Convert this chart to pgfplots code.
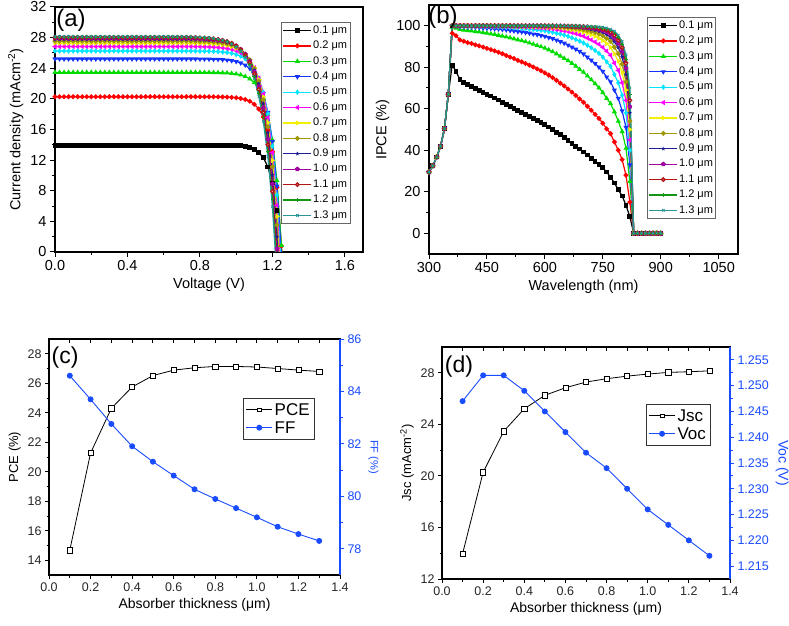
\documentclass[border=0pt]{standalone}
\usepackage{fontspec}
\setmainfont{Liberation Sans}
\usepackage{pgfplots}
\usepackage{pgfplotstable}
\pgfplotsset{compat=1.18}
\usetikzlibrary{plotmarks}

\definecolor{c1}{RGB}{0,0,0}
\definecolor{c2}{RGB}{255,0,0}
\definecolor{c3}{RGB}{0,220,0}
\definecolor{c4}{RGB}{20,50,255}
\definecolor{c5}{RGB}{0,230,255}
\definecolor{c6}{RGB}{255,0,255}
\definecolor{c7}{RGB}{240,240,0}
\definecolor{c8}{RGB}{160,152,0}
\definecolor{c9}{RGB}{30,30,150}
\definecolor{c10}{RGB}{160,0,160}
\definecolor{c11}{RGB}{180,20,20}
\definecolor{c12}{RGB}{20,150,20}
\definecolor{c13}{RGB}{40,150,150}
\definecolor{ffblue}{RGB}{25,75,255}

\pgfplotsset{
  /pgf/number format/assume math mode=true,
  /pgf/number format/1000 sep={},
  sr/.style={line width=1.2pt, mark size=1.8pt},
  s1/.style={sr, color=c1, mark=square*, mark options={solid}},
  s2/.style={sr, color=c2, mark=*, mark options={solid}},
  s3/.style={sr, color=c3, mark=triangle*, mark options={solid}},
  s4/.style={sr, color=c4, mark=triangle*, mark options={solid, rotate=180}},
  s5/.style={sr, color=c5, mark=diamond*, mark options={solid}},
  s6/.style={sr, color=c6, mark=triangle*, mark options={solid, rotate=90}},
  s7/.style={sr, color=c7, mark=triangle*, mark options={solid, rotate=-90}},
  s8/.style={sr, color=c8, mark=*, mark options={solid}},
  s9/.style={sr, color=c9, mark=star, mark options={solid, line width=0.8pt}},
  s10/.style={sr, color=c10, mark=pentagon*, mark options={solid}},
  s11/.style={sr, color=c11, mark=halfcircle*, mark options={solid}},
  s12/.style={sr, color=c12, mark=+, mark options={solid, line width=0.8pt}},
  s13/.style={sr, color=c13, mark=x, mark options={solid, line width=0.8pt}},
  top/.style={
    scale only axis, anchor=south west,
    axis line style={line width=1.3pt},
    every tick/.style={black, line width=1pt},
    xtick pos=bottom, ytick pos=left,
    tick align=outside, major tick length=5pt, minor tick length=3pt,
    minor x tick num=1, minor y tick num=1,
    tick label style={font=\fontsize{14.5}{17}\selectfont},
    label style={font=\fontsize{14.5}{17}\selectfont},
    legend cell align=left,
  },
  low/.style={
    scale only axis, anchor=south west,
    axis line style={line width=1.2pt},
    every tick/.style={black, line width=0.9pt},
    tick align=outside, major tick length=4pt, minor tick length=2.5pt,
    tick label style={font=\fontsize{12.5}{14}\selectfont, text=black!85},
    label style={font=\fontsize{14}{16}\selectfont},
    legend cell align=left,
  },
  cax/.style={at={(49pt,50pt)}, width=291pt, height=236pt, xmin=0, xmax=1.4},
  dax/.style={at={(442pt,46pt)}, width=288pt, height=232pt, xmin=0, xmax=1.4},
}

\pgfplotstableread{
V c1 c2 c3 c4 c5 c6 c7 c8 c9 c10 c11 c12 c13
0.000 13.96 20.28 23.46 25.21 26.25 26.84 27.28 27.54 27.74 27.90 28.03 28.08 28.15
0.025 13.96 20.28 23.46 25.21 26.25 26.84 27.28 27.54 27.74 27.90 28.03 28.08 28.15
0.050 13.96 20.28 23.46 25.21 26.25 26.84 27.28 27.54 27.74 27.90 28.03 28.08 28.15
0.075 13.96 20.28 23.46 25.21 26.25 26.84 27.28 27.54 27.74 27.90 28.03 28.08 28.15
0.100 13.96 20.28 23.46 25.21 26.25 26.84 27.28 27.54 27.74 27.90 28.03 28.08 28.15
0.125 13.96 20.28 23.46 25.21 26.25 26.84 27.28 27.54 27.74 27.90 28.03 28.08 28.15
0.150 13.96 20.28 23.46 25.21 26.25 26.84 27.28 27.54 27.74 27.90 28.03 28.08 28.15
0.175 13.96 20.28 23.46 25.21 26.25 26.84 27.28 27.54 27.74 27.90 28.03 28.08 28.15
0.200 13.96 20.28 23.46 25.21 26.25 26.84 27.28 27.54 27.74 27.90 28.03 28.08 28.15
0.225 13.96 20.28 23.46 25.21 26.25 26.84 27.28 27.54 27.74 27.90 28.03 28.08 28.15
0.250 13.96 20.28 23.46 25.21 26.25 26.84 27.28 27.54 27.74 27.90 28.03 28.08 28.15
0.275 13.96 20.28 23.46 25.21 26.25 26.84 27.28 27.54 27.74 27.90 28.03 28.08 28.15
0.300 13.96 20.28 23.46 25.21 26.25 26.84 27.28 27.54 27.74 27.90 28.03 28.08 28.15
0.325 13.96 20.28 23.46 25.21 26.25 26.84 27.28 27.54 27.74 27.90 28.03 28.08 28.15
0.350 13.96 20.28 23.46 25.21 26.25 26.84 27.28 27.54 27.74 27.90 28.03 28.08 28.15
0.375 13.96 20.28 23.46 25.21 26.25 26.84 27.28 27.54 27.74 27.90 28.03 28.08 28.15
0.400 13.96 20.28 23.46 25.21 26.25 26.84 27.28 27.54 27.74 27.90 28.03 28.08 28.15
0.425 13.96 20.28 23.46 25.21 26.25 26.84 27.28 27.54 27.74 27.90 28.03 28.08 28.15
0.450 13.96 20.28 23.46 25.21 26.25 26.84 27.28 27.54 27.74 27.90 28.03 28.08 28.15
0.475 13.96 20.28 23.46 25.21 26.25 26.84 27.28 27.54 27.74 27.90 28.03 28.08 28.15
0.500 13.96 20.28 23.46 25.21 26.25 26.84 27.28 27.54 27.74 27.90 28.03 28.08 28.15
0.525 13.96 20.28 23.46 25.21 26.25 26.84 27.28 27.54 27.74 27.90 28.03 28.08 28.15
0.550 13.96 20.28 23.46 25.21 26.25 26.84 27.28 27.54 27.74 27.90 28.03 28.08 28.15
0.575 13.96 20.28 23.46 25.21 26.25 26.84 27.28 27.54 27.74 27.90 28.03 28.08 28.15
0.600 13.96 20.28 23.46 25.21 26.25 26.84 27.28 27.54 27.74 27.90 28.03 28.08 28.15
0.625 13.96 20.28 23.46 25.21 26.25 26.84 27.28 27.54 27.74 27.90 28.03 28.08 28.15
0.650 13.96 20.28 23.46 25.21 26.25 26.84 27.28 27.54 27.74 27.90 28.03 28.08 28.15
0.675 13.96 20.28 23.46 25.21 26.25 26.84 27.28 27.54 27.74 27.90 28.03 28.08 28.15
0.700 13.96 20.28 23.46 25.21 26.25 26.84 27.28 27.54 27.74 27.90 28.03 28.08 28.15
0.725 13.96 20.28 23.46 25.21 26.25 26.84 27.28 27.54 27.74 27.90 28.03 28.08 28.15
0.750 13.96 20.28 23.46 25.21 26.25 26.84 27.28 27.54 27.74 27.90 28.02 28.06 28.12
0.775 13.96 20.28 23.46 25.21 26.24 26.83 27.27 27.52 27.72 27.88 28.00 28.03 28.09
0.800 13.96 20.28 23.46 25.20 26.23 26.82 27.25 27.50 27.70 27.85 27.97 28.00 28.06
0.825 13.96 20.28 23.45 25.19 26.23 26.81 27.24 27.49 27.68 27.83 27.94 27.97 28.03
0.850 13.96 20.27 23.45 25.19 26.21 26.79 27.22 27.46 27.65 27.79 27.90 27.93 27.98
0.875 13.96 20.27 23.44 25.17 26.19 26.77 27.18 27.42 27.61 27.74 27.85 27.86 27.91
0.900 13.95 20.26 23.43 25.15 26.17 26.73 27.14 27.37 27.55 27.67 27.77 27.77 27.81
0.925 13.95 20.25 23.41 25.12 26.12 26.67 27.07 27.29 27.46 27.57 27.65 27.64 27.66
0.950 13.94 20.23 23.38 25.07 26.06 26.59 26.97 27.18 27.33 27.43 27.49 27.46 27.46
0.975 13.93 20.20 23.33 24.99 25.96 26.47 26.82 27.01 27.14 27.22 27.26 27.19 27.17
1.000 13.90 20.15 23.25 24.88 25.80 26.29 26.60 26.76 26.87 26.91 26.92 26.82 26.77
1.025 13.86 20.06 23.13 24.69 25.58 26.01 26.28 26.40 26.47 26.47 26.43 26.29 26.19
1.050 13.78 19.92 22.93 24.41 25.23 25.60 25.80 25.87 25.89 25.83 25.74 25.53 25.38
1.075 13.65 19.69 22.61 23.98 24.70 24.99 25.10 25.10 25.04 24.90 24.74 24.45 24.23
1.100 13.42 19.30 22.11 23.31 23.90 24.07 24.06 23.97 23.81 23.56 23.30 22.91 22.61
1.125 13.01 18.67 21.29 22.28 22.69 22.70 22.53 22.31 22.02 21.62 21.24 20.73 20.31
1.150 12.32 17.63 20.00 20.69 20.85 20.64 20.26 19.88 19.41 18.82 18.28 17.61 17.05
1.175 11.11 15.92 17.93 18.23 18.06 17.57 16.91 16.33 15.61 14.76 14.03 13.20 12.44
1.200 9.02 13.10 14.62 14.45 13.84 12.97 11.96 11.13 10.07 8.90 7.93 6.90 5.92
1.225 5.37 8.45 9.33 8.60 7.43 6.10 4.65 3.53 2.00 0.42 -0.82 -2.05 -3.29
1.250 -0.95 0.79 0.87 -0.44 -2.28 -4.19 -6.14 -7.60 -9.74 -11.9 -13.4 -14.8 -16.4
1.275 -11.9 -11.8 -12.7 -14.4 -17.0 -19.6 -22.1 -23.9 -26.8 -29.6 -31.5 -32.9 -34.9
}\tabA

\pgfplotstableread{
L c1 c2 c3 c4 c5 c6 c7 c8 c9 c10 c11 c12 c13
300 29.5 29.5 29.5 29.5 29.5 29.5 29.5 29.5 29.5 29.5 29.5 29.5 29.5
310 32.5 32.5 32.5 32.5 32.5 32.5 32.5 32.5 32.5 32.5 32.5 32.5 32.5
320 36.7 36.7 36.7 36.7 36.7 36.7 36.7 36.7 36.7 36.7 36.7 36.7 36.7
330 42.0 42.0 42.0 42.0 42.0 42.0 42.0 42.0 42.0 42.0 42.0 42.0 42.0
340 50.4 50.4 50.4 50.4 50.4 50.4 50.4 50.4 50.4 50.4 50.4 50.4 50.4
350 67.0 67.0 67.0 67.0 67.0 67.0 67.0 67.0 67.0 67.0 67.0 67.0 67.0
360 81.0 96.4 99.3 99.9 100 100 100 100 100 100 100 100 100
370 78.0 95.2 98.9 99.8 100 100 100 100 100 100 100 100 100
380 74.0 93.2 98.2 99.5 99.9 100 100 100 100 100 100 100 100
390 72.6 92.5 97.9 99.4 99.8 100 100 100 100 100 100 100 100
400 71.6 91.9 97.7 99.4 99.8 100 100 100 100 100 100 100 100
410 70.6 91.4 97.5 99.3 99.8 99.9 100 100 100 100 100 100 100
420 69.7 90.8 97.2 99.2 99.7 99.9 100 100 100 100 100 100 100
430 68.8 90.3 97.0 99.1 99.7 99.9 100 100 100 100 100 100 100
440 67.9 89.7 96.7 98.9 99.7 99.9 100 100 100 100 100 100 100
450 67.0 89.1 96.4 98.8 99.6 99.9 100 100 100 100 100 100 100
460 66.1 88.5 96.1 98.7 99.6 99.8 100 100 100 100 100 100 100
470 65.2 87.9 95.8 98.5 99.5 99.8 99.9 100 100 100 100 100 100
480 64.2 87.2 95.4 98.4 99.4 99.8 99.9 100 100 100 100 100 100
490 63.2 86.5 95.0 98.2 99.3 99.8 99.9 100 100 100 100 100 100
500 62.2 85.7 94.6 98.0 99.2 99.7 99.9 100 100 100 100 100 100
510 61.2 84.9 94.2 97.7 99.1 99.7 99.9 100 100 100 100 100 100
520 60.2 84.2 93.7 97.5 99.0 99.6 99.8 99.9 100 100 100 100 100
530 59.2 83.3 93.2 97.2 98.9 99.5 99.8 99.9 100 100 100 100 100
540 58.3 82.6 92.8 97.0 98.7 99.5 99.8 99.9 100 100 100 100 100
550 57.4 81.8 92.3 96.7 98.6 99.4 99.7 99.9 100 100 100 100 100
560 56.4 81.0 91.7 96.4 98.4 99.3 99.7 99.9 99.9 100 100 100 100
570 55.4 80.1 91.1 96.0 98.2 99.2 99.6 99.8 99.9 100 100 100 100
580 54.4 79.2 90.5 95.7 98.0 99.1 99.6 99.8 99.9 100 100 100 100
590 53.4 78.3 89.9 95.3 97.8 99.0 99.5 99.8 99.9 100 100 100 100
600 52.4 77.3 89.2 94.9 97.6 98.8 99.4 99.7 99.9 99.9 100 100 100
610 51.2 76.2 88.4 94.3 97.2 98.6 99.3 99.7 99.8 99.9 100 100 100
620 50.0 75.0 87.5 93.8 96.9 98.4 99.2 99.6 99.8 99.9 100 100 100
630 48.7 73.7 86.5 93.1 96.4 98.2 99.1 99.5 99.8 99.9 99.9 100 100
640 47.4 72.3 85.4 92.3 96.0 97.9 98.9 99.4 99.7 99.8 99.9 100 100
650 46.1 71.0 84.3 91.6 95.5 97.5 98.7 99.3 99.6 99.8 99.9 99.9 100
660 44.8 69.5 83.2 90.7 94.9 97.2 98.4 99.1 99.5 99.7 99.9 99.9 100
670 43.4 68.0 81.9 89.7 94.2 96.7 98.1 98.9 99.4 99.7 99.8 99.9 99.9
680 42.0 66.4 80.5 88.7 93.4 96.2 97.8 98.7 99.3 99.6 99.8 99.9 99.9
690 40.6 64.7 79.0 87.6 92.6 95.6 97.4 98.5 99.1 99.5 99.7 99.8 99.9
700 39.2 63.1 77.6 86.4 91.7 95.0 96.9 98.1 98.9 99.3 99.6 99.7 99.8
710 37.7 61.2 75.8 84.9 90.6 94.1 96.4 97.7 98.6 99.1 99.5 99.7 99.8
720 36.2 59.3 74.0 83.4 89.4 93.2 95.7 97.2 98.2 98.9 99.3 99.5 99.7
730 34.7 57.3 72.1 81.8 88.1 92.2 94.9 96.7 97.8 98.6 99.1 99.4 99.6
740 33.2 55.3 70.1 80.0 86.7 91.1 94.0 96.0 97.3 98.2 98.8 99.2 99.5
750 31.5 53.0 67.8 78.0 84.9 89.6 92.9 95.1 96.7 97.7 98.4 98.9 99.3
760 29.5 50.3 65.0 75.3 82.6 87.8 91.4 93.9 95.7 97.0 97.9 98.5 98.9
770 27.0 48.0 62.5 73.0 80.5 85.8 89.6 92.5 94.4 95.9 97.0 97.8 98.3
780 24.2 44.0 58.5 69.0 76.5 82.0 86.5 89.7 92.2 94.0 95.5 96.6 97.4
790 21.0 40.0 54.0 65.0 72.5 78.5 83.0 86.5 89.5 91.5 93.0 94.5 95.5
800 18.0 35.5 49.0 59.0 66.5 72.5 77.5 81.5 85.0 87.5 89.5 91.0 92.5
810 13.5 28.0 41.0 51.0 58.0 64.0 69.0 73.0 76.5 79.5 82.0 84.0 86.0
820 8.0 15.0 25.0 33.0 40.0 45.0 50.0 54.0 58.0 61.0 64.0 67.0 70.0
830 0 0 0 0 0 0 0 0 0 0 0 0 0
840 0 0 0 0 0 0 0 0 0 0 0 0 0
850 0 0 0 0 0 0 0 0 0 0 0 0 0
860 0 0 0 0 0 0 0 0 0 0 0 0 0
870 0 0 0 0 0 0 0 0 0 0 0 0 0
880 0 0 0 0 0 0 0 0 0 0 0 0 0
890 0 0 0 0 0 0 0 0 0 0 0 0 0
900 0 0 0 0 0 0 0 0 0 0 0 0 0
}\tabB

\begin{document}
\begin{tikzpicture}
\useasboundingbox (0,0) rectangle (789pt,625pt);

% ---------------- (a)
\begin{axis}[top,
  at={(55pt,373pt)}, width=308pt, height=245pt,
  xmin=0, xmax=1.7, ymin=0, ymax=32,
  xtick={0,0.4,0.8,1.2,1.6}, xticklabels={0.0,0.4,0.8,1.2,1.6},
  ytick={0,4,8,12,16,20,24,28,32},
  xlabel={Voltage (V)}, ylabel={Current density (mAcm\textsuperscript{-2})},
  legend image code/.code={\draw[mark repeat=2,mark phase=2,#1] plot coordinates {(0pt,0pt) (14pt,0pt) (28pt,0pt)};},
  legend style={at={(0.734,0.937)}, anchor=north west, draw=black!60,
    font=\fontsize{11}{13}\selectfont, inner sep=1.5pt, row sep=2.6pt,
    nodes={inner sep=1.2pt, text height=8pt, text depth=2.4pt}},
]
\addplot[s1] table[x=V,y=c1]{\tabA};
\addplot[s2] table[x=V,y=c2]{\tabA};
\addplot[s3] table[x=V,y=c3]{\tabA};
\addplot[s4] table[x=V,y=c4]{\tabA};
\addplot[s5] table[x=V,y=c5]{\tabA};
\addplot[s6] table[x=V,y=c6]{\tabA};
\addplot[s7] table[x=V,y=c7]{\tabA};
\addplot[s8] table[x=V,y=c8]{\tabA};
\addplot[s9] table[x=V,y=c9]{\tabA};
\addplot[s10] table[x=V,y=c10]{\tabA};
\addplot[s11] table[x=V,y=c11]{\tabA};
\addplot[s12] table[x=V,y=c12]{\tabA};
\addplot[s13] table[x=V,y=c13]{\tabA};
\legend{0.1 μm,0.2 μm,0.3 μm,0.4 μm,0.5 μm,0.6 μm,0.7 μm,0.8 μm,0.9 μm,1.0 μm,1.1 μm,1.2 μm,1.3 μm}
\end{axis}

% ---------------- (b)
\begin{axis}[top,
  at={(429pt,371pt)}, width=309pt, height=249pt,
  xmin=300, xmax=1100, ymin=-10, ymax=110,
  xtick={300,450,600,750,900,1050}, xticklabels={300,450,600,750,900,1050},
  ytick={0,20,40,60,80,100},
  xlabel={Wavelength (nm)}, ylabel={IPCE (\%)},
  legend image code/.code={\draw[mark repeat=2,mark phase=2,#1] plot coordinates {(0pt,0pt) (14pt,0pt) (28pt,0pt)};},
  legend style={at={(0.7055,0.95)}, anchor=north west, draw=black!60,
    font=\fontsize{11}{13}\selectfont, inner sep=1.5pt, row sep=2.6pt,
    nodes={inner sep=1.2pt, text height=8pt, text depth=2.4pt}},
]
\addplot[s1] table[x=L,y=c1]{\tabB};
\addplot[s2] table[x=L,y=c2]{\tabB};
\addplot[s3] table[x=L,y=c3]{\tabB};
\addplot[s4] table[x=L,y=c4]{\tabB};
\addplot[s5] table[x=L,y=c5]{\tabB};
\addplot[s6] table[x=L,y=c6]{\tabB};
\addplot[s7] table[x=L,y=c7]{\tabB};
\addplot[s8] table[x=L,y=c8]{\tabB};
\addplot[s9] table[x=L,y=c9]{\tabB};
\addplot[s10] table[x=L,y=c10]{\tabB};
\addplot[s11] table[x=L,y=c11]{\tabB};
\addplot[s12] table[x=L,y=c12]{\tabB};
\addplot[s13] table[x=L,y=c13]{\tabB};
\legend{0.1 μm,0.2 μm,0.3 μm,0.4 μm,0.5 μm,0.6 μm,0.7 μm,0.8 μm,0.9 μm,1.0 μm,1.1 μm,1.2 μm,1.3 μm}
\end{axis}

% ---------------- (c)
\begin{axis}[low, cax, clip=false,
  xtick pos=bottom, ytick pos=left,
  ymin=13, ymax=29,
  xtick={0,0.2,0.4,0.6,0.8,1.0,1.2,1.4}, xticklabels={0.0,0.2,0.4,0.6,0.8,1.0,1.2,1.4},
  minor x tick num=1,
  ytick={14,16,18,20,22,24,26,28}, minor y tick num=1,
  xlabel={Absorber thickness (μm)}, ylabel={PCE (\%)},
  ylabel style={font=\fontsize{13}{15}\selectfont},
]
\addplot[black, line width=0.8pt, mark=square*, mark size=2.6pt, mark options={fill=white, line width=0.6pt}]
 coordinates {(0.1,14.68)(0.2,21.27)(0.3,24.3)(0.4,25.75)(0.5,26.52)(0.6,26.89)(0.7,27.05)(0.8,27.14)(0.9,27.14)(1.0,27.1)(1.1,27.0)(1.2,26.89)(1.3,26.8)};
\draw[black, line width=1.2pt] (rel axis cs:0,1) -- (rel axis cs:1,1);
\end{axis}
\begin{axis}[low, cax,
  ymin=0, ymax=1, ytick=\empty,
  xtick={0,0.1,0.2,0.3,0.4,0.5,0.6,0.7,0.8,0.9,1.0,1.1,1.2,1.3,1.4}, xticklabels={},
  xtick pos=top, tick align=inside, major tick length=4pt,
  axis line style={draw=none},
]
\addplot[draw=none] coordinates {(0.5,0.5)};
\end{axis}
\begin{axis}[low, cax,
  axis x line=none, axis y line*=right,
  ymin=77, ymax=86, ytick={78,80,82,84,86}, minor y tick num=1,
  y axis line style={ffblue, line width=1.2pt},
  every tick/.style={ffblue, line width=0.9pt},
  yticklabel style={text=ffblue},
  ylabel={FF (\%)}, ylabel style={font=\fontsize{11}{13}\selectfont, text=ffblue, rotate=180},
  legend image code/.code={\draw[mark repeat=2,mark phase=2,#1] plot coordinates {(0pt,0pt) (13pt,0pt) (26pt,0pt)};},
  legend style={at={(0.667,0.75)}, anchor=north west, draw=black!80,
    font=\fontsize{17}{19}\selectfont, inner sep=2.5pt, row sep=0pt,
    nodes={inner sep=2pt, text height=12.5pt, text depth=1.5pt}},
]
\addlegendimage{black, line width=0.8pt, mark=square*, mark size=1.8pt, mark options={fill=white, line width=0.6pt}}
\addlegendentry{PCE}
\addplot[ffblue, line width=0.9pt, mark=*, mark size=2.5pt]
 coordinates {(0.1,84.6)(0.2,83.7)(0.3,82.76)(0.4,81.91)(0.5,81.32)(0.6,80.79)(0.7,80.27)(0.8,79.9)(0.9,79.55)(1.0,79.2)(1.1,78.84)(1.2,78.56)(1.3,78.3)};
\addlegendentry{FF}
\end{axis}

% ---------------- (d)
\begin{axis}[low, dax, clip=false,
  xtick pos=bottom, ytick pos=left,
  ymin=12, ymax=30,
  xtick={0,0.2,0.4,0.6,0.8,1.0,1.2,1.4}, xticklabels={0.0,0.2,0.4,0.6,0.8,1.0,1.2,1.4},
  minor x tick num=1,
  ytick={12,16,20,24,28}, minor y tick num=1,
  xlabel={Absorber thickness (μm)}, ylabel={Jsc (mAcm\textsuperscript{-2})},
  ylabel style={font=\fontsize{13}{15}\selectfont},
]
\addplot[black, line width=0.8pt, mark=square*, mark size=2.6pt, mark options={fill=white, line width=0.6pt}]
 coordinates {(0.1,13.96)(0.2,20.28)(0.3,23.46)(0.4,25.21)(0.5,26.25)(0.6,26.84)(0.7,27.28)(0.8,27.54)(0.9,27.74)(1.0,27.9)(1.1,28.03)(1.2,28.08)(1.3,28.15)};
\draw[black, line width=1.2pt] (rel axis cs:0,1) -- (rel axis cs:1,1);
\end{axis}
\begin{axis}[low, dax,
  ymin=0, ymax=1, ytick=\empty,
  xtick={0,0.1,0.2,0.3,0.4,0.5,0.6,0.7,0.8,0.9,1.0,1.1,1.2,1.3,1.4}, xticklabels={},
  xtick pos=top, tick align=inside, major tick length=4pt,
  axis line style={draw=none},
]
\addplot[draw=none] coordinates {(0.5,0.5)};
\end{axis}
\begin{axis}[low, dax,
  axis x line=none, axis y line*=right,
  ymin=1.2125, ymax=1.2575,
  ytick={1.215,1.22,1.225,1.23,1.235,1.24,1.245,1.25,1.255},
  yticklabels={1.215,1.220,1.225,1.230,1.235,1.240,1.245,1.250,1.255},
  minor y tick num=1,
  y axis line style={ffblue, line width=1.2pt},
  every tick/.style={ffblue, line width=0.9pt},
  yticklabel style={text=ffblue},
  ylabel={Voc (V)}, ylabel style={font=\fontsize{14}{16}\selectfont, text=ffblue, rotate=180},
  legend image code/.code={\draw[mark repeat=2,mark phase=2,#1] plot coordinates {(0pt,0pt) (13pt,0pt) (26pt,0pt)};},
  legend style={at={(0.708,0.754)}, anchor=north west, draw=black!80,
    font=\fontsize{17}{19}\selectfont, inner sep=2.5pt, row sep=0pt,
    nodes={inner sep=2pt, text height=12.5pt, text depth=1.5pt}},
]
\addlegendimage{black, line width=0.8pt, mark=square*, mark size=1.8pt, mark options={fill=white, line width=0.6pt}}
\addlegendentry{Jsc}
\addplot[ffblue, line width=0.9pt, mark=*, mark size=2.5pt]
 coordinates {(0.1,1.247)(0.2,1.252)(0.3,1.252)(0.4,1.249)(0.5,1.245)(0.6,1.241)(0.7,1.237)(0.8,1.234)(0.9,1.230)(1.0,1.226)(1.1,1.223)(1.2,1.220)(1.3,1.217)};
\addlegendentry{Voc}
\end{axis}

% panel labels
\node[font=\fontsize{24}{28}\selectfont] at (71pt,605pt) {(a)};
\node[font=\fontsize{24}{28}\selectfont] at (443pt,608pt) {(b)};
\node[font=\fontsize{23}{27}\selectfont] at (65pt,267pt) {(c)};
\node[font=\fontsize{23}{27}\selectfont] at (459pt,258pt) {(d)};
\end{tikzpicture}
\end{document}
